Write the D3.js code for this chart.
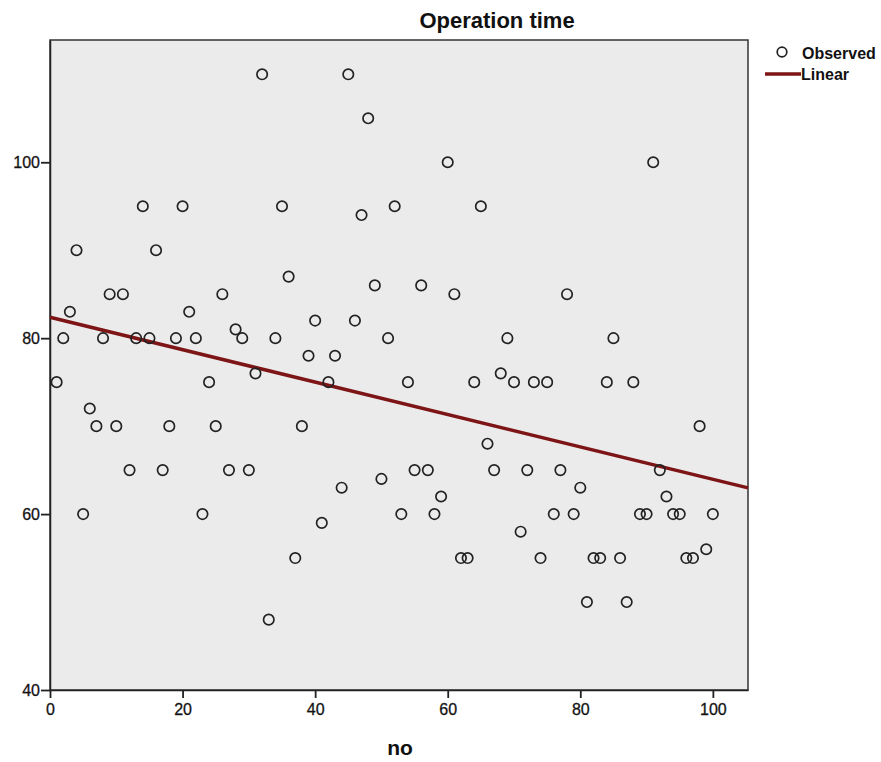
<!DOCTYPE html>
<html>
<head>
<meta charset="utf-8">
<script src="https://cdn.jsdelivr.net/npm/d3@7"></script>
<style>
  body { margin: 0; background: #fff; }
  svg text { font-family: "Liberation Sans", Arial, sans-serif; fill: #111; }
</style>
</head>
<body>
<div id="chart"></div>
<script>
// case number 1..100 and observed operation time
const caseNo = d3.range(1, 101)
const opTime = [
  75, 80, 83, 90, 60, 72, 70, 80, 85, 70,
  85, 65, 80, 95, 80, 90, 65, 70, 80, 95,
  83, 80, 60, 75, 70, 85, 65, 81, 80, 65,
  76, 110, 48, 80, 95, 87, 55, 70, 78, 82,
  59, 75, 78, 63, 110, 82, 94, 105, 86, 64,
  80, 95, 60, 75, 65, 86, 65, 60, 62, 100,
  85, 55, 55, 75, 95, 68, 65, 76, 80, 75,
  58, 65, 75, 55, 75, 60, 65, 85, 60, 63,
  50, 55, 55, 75, 80, 55, 50, 75, 60, 60,
  100, 65, 62, 60, 60, 55, 55, 70, 56, 60
]
const xTicks = [0, 20, 40, 60, 80, 100]
const yTicks = [40, 60, 80, 100]

const width = 881, height = 762
const plot = {left: 50, top: 40, right: 748, bottom: 690}

const svg = d3.select("#chart").append("svg")
    .attr("width", width)
    .attr("height", height)

const x = d3.scaleLinear().domain([0, 105.3]).range([plot.left, plot.right])
const y = d3.scaleLinear().domain([40, 113.9]).range([plot.bottom, plot.top])

//plot background + frame
svg.append("rect")
    .attr("x", plot.left).attr("y", plot.top)
    .attr("width", plot.right - plot.left)
    .attr("height", plot.bottom - plot.top)
    .attr("fill", "#ebebeb")
    .attr("stroke", "#333")
    .attr("stroke-width", 1.5)

//axes
const xAxis = svg.append("g")
    .attr("transform", `translate(0,${plot.bottom})`)
    .call(d3.axisBottom(x).tickValues(xTicks).tickSize(8).tickSizeOuter(0).tickPadding(6))
const yAxis = svg.append("g")
    .attr("transform", `translate(${plot.left},0)`)
    .call(d3.axisLeft(y).tickValues(yTicks).tickSize(9).tickSizeOuter(0).tickPadding(1))

for (const ax of [xAxis, yAxis]) {
    ax.select(".domain").attr("stroke", "#222").attr("stroke-width", 1.5)
    ax.selectAll(".tick line").attr("stroke", "#222").attr("stroke-width", 1.8)
    ax.selectAll(".tick text")
        .attr("fill", "#1a1a1a")
        .attr("stroke", "#1a1a1a").attr("stroke-width", 0.3)
        .style("font-size", "16px")
        .style("font-family", "'Liberation Sans', Arial, sans-serif")
}

//linear fit (least squares)
const mx = d3.mean(caseNo), my = d3.mean(opTime)
const slope = d3.sum(caseNo, (d, i) => (d - mx) * (opTime[i] - my)) / d3.sum(caseNo, d => (d - mx) ** 2)
const intercept = my - slope * mx
const xd = x.domain()

svg.append("line")
    .attr("x1", x(xd[0])).attr("y1", y(intercept + slope * xd[0]))
    .attr("x2", x(xd[1])).attr("y2", y(intercept + slope * xd[1]))
    .attr("stroke", "#7d1416")
    .attr("stroke-width", 3.5)

//observed points
svg.append("g").selectAll("circle")
    .data(caseNo).enter()
    .append("circle")
    .attr("cx", d => x(d))
    .attr("cy", (d, i) => y(opTime[i]))
    .attr("r", 5.2)
    .attr("fill", "none")
    .attr("stroke", "#222")
    .attr("stroke-width", 1.7)

//titles
svg.append("text")
    .attr("x", 497).attr("y", 28)
    .attr("text-anchor", "middle")
    .style("font-size", "22px").style("font-weight", "bold")
    .text("Operation time")

svg.append("text")
    .attr("x", 400).attr("y", 755)
    .attr("text-anchor", "middle")
    .style("font-size", "21px").style("font-weight", "bold")
    .text("no")

//legend
const legend = svg.append("g")
legend.append("circle")
    .attr("cx", 782).attr("cy", 52).attr("r", 4.8)
    .attr("fill", "none").attr("stroke", "#222").attr("stroke-width", 1.7)
legend.append("text")
    .attr("x", 802).attr("y", 59)
    .style("font-size", "16px").style("font-weight", "bold")
    .text("Observed")
legend.append("line")
    .attr("x1", 765).attr("x2", 801).attr("y1", 74).attr("y2", 74)
    .attr("stroke", "#7d1416").attr("stroke-width", 3.5)
legend.append("text")
    .attr("x", 801).attr("y", 80)
    .style("font-size", "16px").style("font-weight", "bold")
    .text("Linear")
</script>
</body>
</html>
